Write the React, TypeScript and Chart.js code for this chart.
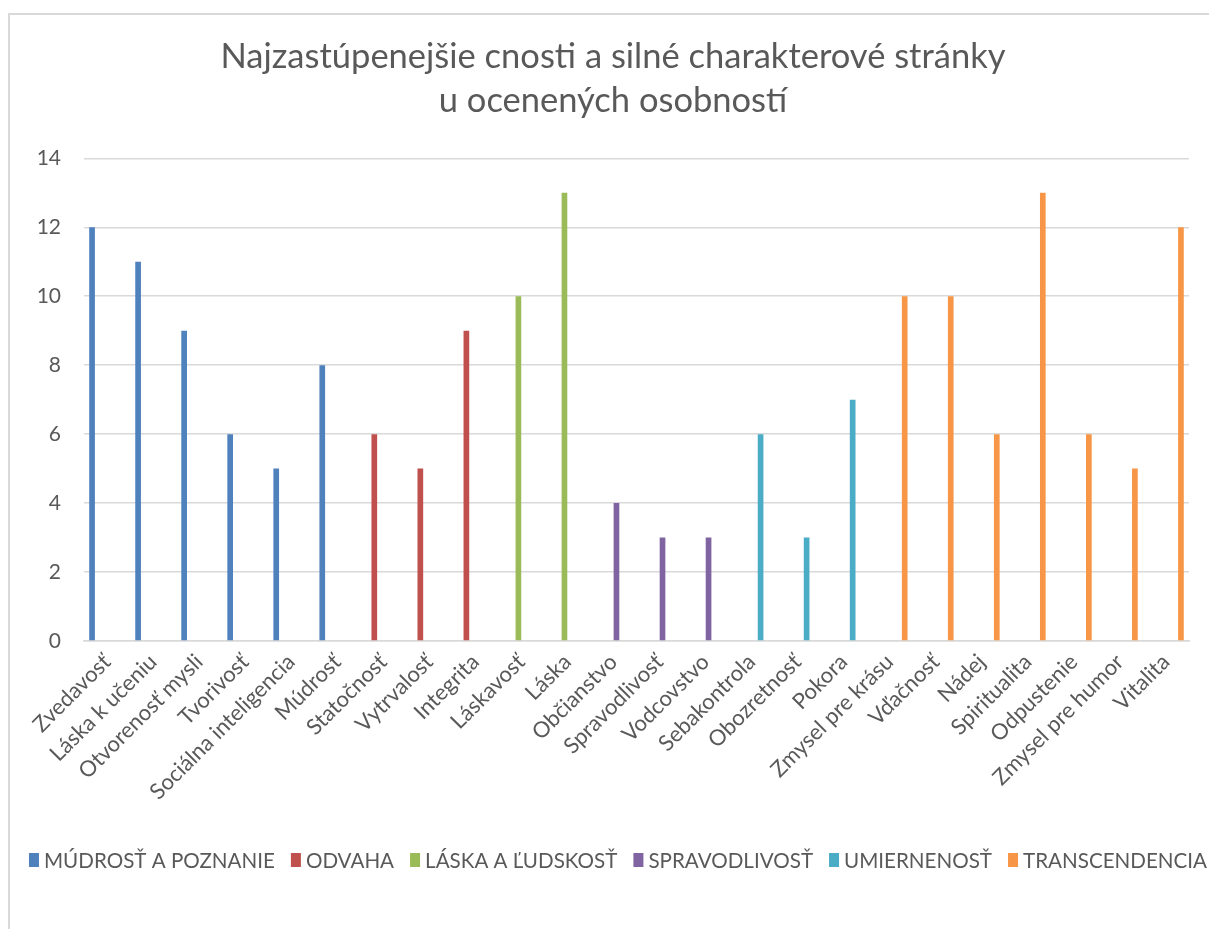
import React, { useEffect, useRef } from "react";
import { Chart, registerables } from "chart.js";

Chart.register(...registerables);

const categories = [
  "Zvedavosť",
  "Láska k učeniu",
  "Otvorenosť mysli",
  "Tvorivosť",
  "Sociálna inteligencia",
  "Múdrosť",
  "Statočnosť",
  "Vytrvalosť",
  "Integrita",
  "Láskavosť",
  "Láska",
  "Občianstvo",
  "Spravodlivosť",
  "Vodcovstvo",
  "Sebakontrola",
  "Obozretnosť",
  "Pokora",
  "Zmysel pre krásu",
  "Vďačnosť",
  "Nádej",
  "Spiritualita",
  "Odpustenie",
  "Zmysel pre humor",
  "Vitalita",
];

const seriesNames = [
  "MÚDROSŤ A POZNANIE",
  "ODVAHA",
  "LÁSKA A ĽUDSKOSŤ",
  "SPRAVODLIVOSŤ",
  "UMIERNENOSŤ",
  "TRANSCENDENCIA",
];

const _ = null;
const mudrost = [12, 11, 9, 6, 5, 8, _, _, _, _, _, _, _, _, _, _, _, _, _, _, _, _, _, _];
const odvaha = [_, _, _, _, _, _, 6, 5, 9, _, _, _, _, _, _, _, _, _, _, _, _, _, _, _];
const laska = [_, _, _, _, _, _, _, _, _, 10, 13, _, _, _, _, _, _, _, _, _, _, _, _, _];
const spravodlivost = [_, _, _, _, _, _, _, _, _, _, _, 4, 3, 3, _, _, _, _, _, _, _, _, _, _];
const umiernenost = [_, _, _, _, _, _, _, _, _, _, _, _, _, _, 6, 3, 7, _, _, _, _, _, _, _];
const transcendencia = [_, _, _, _, _, _, _, _, _, _, _, _, _, _, _, _, _, 10, 10, 6, 13, 6, 5, 12];

const seriesValues = [mudrost, odvaha, laska, spravodlivost, umiernenost, transcendencia];
const seriesColors = ["#4F81BD", "#C0504D", "#9BBB59", "#8064A2", "#4BACC6", "#F79646"];

const titleLines = [
  "Najzastúpenejšie cnosti a silné charakterové stránky",
  "u ocenených osobností",
];

const FONT = "Lato, 'Open Sans', sans-serif";
const TEXT = "#595959";
const GRID = "#D9D9D9";

const legendPlugin = {
  id: "excelLegend",
  afterDraw(chart: any) {
    const ctx = chart.ctx;
    ctx.save();
    ctx.font = `20.6px ${FONT}`;
    ctx.textBaseline = "middle";
    const boxW = 10;
    const boxH = 14;
    const gap = 5;
    const itemGap = 16;
    const ds = chart.data.datasets;
    const widths = ds.map((d: any) => boxW + gap + ctx.measureText(d.label).width);
    const total = widths.reduce((a: number, b: number) => a + b, 0) + itemGap * (ds.length - 1);
    let x = 618 - total / 2;
    const y = 860;
    ds.forEach((d: any, i: number) => {
      ctx.fillStyle = d.backgroundColor;
      ctx.fillRect(x, y - boxH / 2, boxW, boxH);
      ctx.fillStyle = TEXT;
      ctx.textAlign = "left";
      ctx.fillText(d.label, x + boxW + gap, y + 1);
      x += widths[i] + itemGap;
    });
    ctx.restore();
  },
};

export default function App() {
  const ref = useRef<HTMLCanvasElement | null>(null);

  useEffect(() => {
    if (!ref.current) return;
    const chart = new Chart(ref.current, {
      type: "bar",
      data: {
        labels: categories,
        datasets: seriesNames.map((name, i) => ({
          label: name,
          data: seriesValues[i],
          backgroundColor: seriesColors[i],
          borderWidth: 0,
          categoryPercentage: 0.78,
          barPercentage: 0.95,
        })),
      },
      options: {
        animation: false,
        responsive: false,
        maintainAspectRatio: false,
        layout: { padding: { left: 37, right: 20, top: 0, bottom: 88 } },
        plugins: {
          legend: { display: false },
          tooltip: { enabled: false },
          title: {
            display: true,
            text: titleLines,
            color: TEXT,
            font: { family: FONT, size: 34.5, weight: "normal", lineHeight: 1.28 },
            padding: { top: 35, bottom: 35 },
          },
        },
        scales: {
          x: {
            grid: { display: false, drawTicks: false },
            border: { display: true, color: GRID, width: 1.5 },
            ticks: {
              color: TEXT,
              font: { family: FONT, size: 22 },
              minRotation: 45,
              maxRotation: 45,
              autoSkip: false,
              padding: 8,
            },
            afterFit(scale: any) {
              scale.height = 200;
            },
          },
          y: {
            min: 0,
            max: 14,
            ticks: {
              stepSize: 2,
              color: TEXT,
              font: { family: FONT, size: 21 },
              padding: 23,
            },
            grid: { color: GRID, lineWidth: 1.5, drawTicks: false },
            border: { display: false },
            afterFit(scale: any) {
              scale.width = 47;
            },
          },
        },
      },
      plugins: [legendPlugin],
    });
    return () => chart.destroy();
  }, []);

  return (
    <div style={{ position: "fixed", left: 0, top: 0, width: 1209, height: 929, overflow: "hidden", background: "#fff" }}>
      <div
        style={{
          position: "absolute",
          left: 8,
          top: 13,
          width: 1300,
          height: 1000,
          border: "2px solid #D9D9D9",
          boxSizing: "border-box",
        }}
      />
      <canvas
        ref={ref}
        width={1209}
        height={929}
        style={{ position: "absolute", left: 0, top: 0, width: 1209, height: 929 }}
      />
    </div>
  );
}
